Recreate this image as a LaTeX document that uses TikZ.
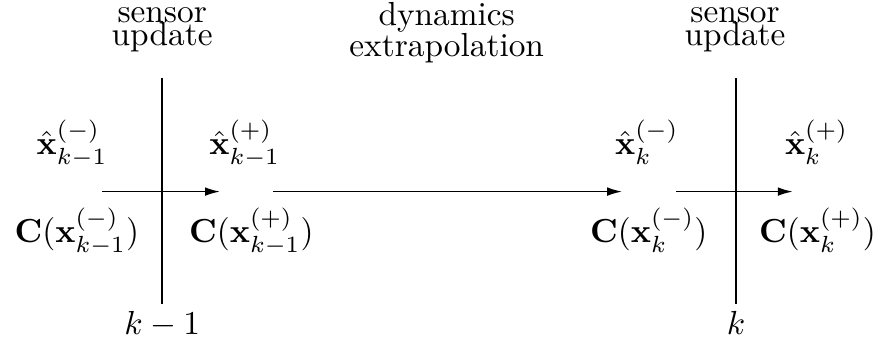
\documentclass[tikz,border=0pt]{standalone}
\usetikzlibrary{arrows.meta,positioning}

\begin{document}
\begin{tikzpicture}[line width=0.5pt,
  flow/.style={-{Latex[length=4.5pt,width=2.6pt]}},
  est/.style={anchor=base,inner sep=0pt},
  stamp/.style={anchor=base,inner sep=0pt},
  head/.style={anchor=south,align=center,inner sep=0pt}]
  \useasboundingbox (-1.71,-1.64) rectangle (7.60,2.02);
  % time instants
  \coordinate (tatop) at (0,1.20);
  \coordinate (tabot) at (0,-1.19);
  \coordinate (tbtop) at (6.05,1.20);
  \coordinate (tbbot) at (6.05,-1.19);
  \draw (tatop) -- (tabot);
  \draw (tbtop) -- (tbbot);
  \node[stamp] (ka) at (0,-1.51) {$k-1$};
  \node[stamp] (kb) at (6.05,-1.51) {$k$};
  % headings
  \node[head] (upda) at (0,1.46) {sensor\\[-5pt]update};
  \node[head] (dyn) at (3.00,1.35) {dynamics\\[-2.7pt]extrapolation};
  \node[head] (updb) at (6.04,1.46) {sensor\\[-5pt]update};
  % arrow end points
  \coordinate (a1) at (-0.63,0);
  \coordinate (a2) at (0.61,0);
  \coordinate (b1) at (1.17,0);
  \coordinate (b2) at (4.85,0);
  \coordinate (c1) at (5.42,0);
  \coordinate (c2) at (6.65,0);
  \draw[flow] (a1) -- (a2);
  \draw[flow] (b1) -- (b2);
  \draw[flow] (c1) -- (c2);
  % estimates and covariances
  \node[est] (xam) at (-0.95,0.39) {$\hat{\mathbf{x}}_{k-1}^{(-)}$};
  \node[est] (xap) at (0.87,0.39) {$\hat{\mathbf{x}}_{k-1}^{(+)}$};
  \node[est] (xbm) at (5.11,0.39) {$\hat{\mathbf{x}}_{k}^{(-)}$};
  \node[est] (xbp) at (6.90,0.39) {$\hat{\mathbf{x}}_{k}^{(+)}$};
  \node[est] (cam) at (-0.90,-0.54) {$\mathbf{C}(\mathbf{x}_{k-1}^{(-)})$};
  \node[est] (cap) at (0.94,-0.54) {$\mathbf{C}(\mathbf{x}_{k-1}^{(+)})$};
  \node[est] (cbm) at (5.13,-0.54) {$\mathbf{C}(\mathbf{x}_{k}^{(-)})$};
  \node[est] (cbp) at (6.91,-0.54) {$\mathbf{C}(\mathbf{x}_{k}^{(+)})$};
\end{tikzpicture}
\end{document}
